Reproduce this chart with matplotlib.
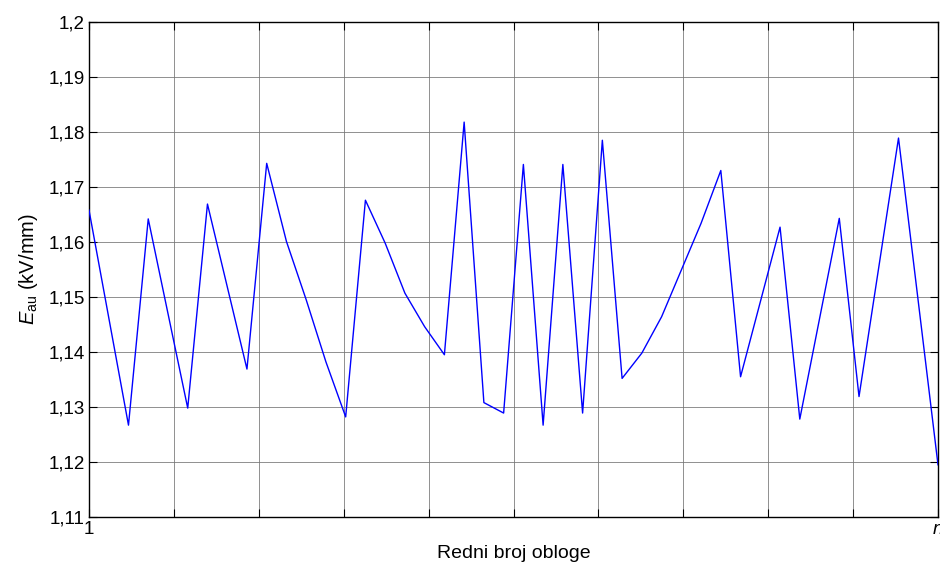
import matplotlib
matplotlib.use("Agg")
import matplotlib.pyplot as plt
import numpy as np

plt.rcParams['font.family'] = ['Liberation Sans', 'DejaVu Sans']
plt.rcParams['mathtext.fontset'] = 'custom'
plt.rcParams['mathtext.rm'] = 'Liberation Sans'
plt.rcParams['mathtext.it'] = 'Liberation Sans:italic'

# arc index (0 = first arc, 43 = n-th arc) of each visible vertex
arc_index = [0, 2, 3, 5, 6, 8, 9, 10, 11, 12, 13, 14, 15, 16, 17, 18, 19, 20, 21,
             22, 23, 24, 25, 26, 27, 28, 29, 30, 31, 32, 33, 35, 36, 38, 39, 41, 43]
e_au = [1.1658, 1.1267, 1.1642, 1.1298, 1.1669, 1.1369, 1.1743, 1.1601, 1.1495,
        1.1382, 1.1282, 1.1676, 1.1598, 1.1507, 1.1446, 1.1395, 1.1818, 1.1308,
        1.1289, 1.1741, 1.1267, 1.1741, 1.1289, 1.1785, 1.1352, 1.1398, 1.1464,
        1.1549, 1.1634, 1.1730, 1.1355, 1.1627, 1.1278, 1.1643, 1.1319, 1.1789,
        1.1195]

y_ticks = [1.11, 1.12, 1.13, 1.14, 1.15, 1.16, 1.17, 1.18, 1.19, 1.2]
y_tick_labels = ['1,11', '1,12', '1,13', '1,14', '1,15', '1,16', '1,17', '1,18', '1,19', '1,2']
x_first_label = '1'
x_last_label = '$n$'
n_last = 43

fig = plt.figure(figsize=(9.4, 5.63), dpi=100)
ax = fig.add_axes([89/940, 1-517/563, (938-89)/940, (517-22)/563])

ax.plot(arc_index, e_au, color=(0, 0, 1), lw=1.0, zorder=3)

ax.set_xlim(0, n_last)
ax.set_ylim(1.11, 1.2)
xt = np.linspace(0, n_last, 11)
ax.set_xticks(xt)
ax.set_xticklabels([x_first_label] + [''] * 9 + [x_last_label])
ax.set_yticks(y_ticks)
ax.set_yticklabels(y_tick_labels)

ax.grid(True, color='0.45', lw=0.7, alpha=0.8)
ax.tick_params(direction='in', length=6, width=0.8, top=True, right=True,
               labelsize=13.5, colors='black', pad=3)
for s in ax.spines.values():
    s.set_linewidth(1.0)
    s.set_color('black')

ax.set_xlabel('Redni broj obloge', fontsize=14, labelpad=5)
ax.set_ylabel(r'$E_{\mathrm{au}}$ (kV/mm)', fontsize=14.5, labelpad=6)

fig.savefig('out.png', dpi=100)
